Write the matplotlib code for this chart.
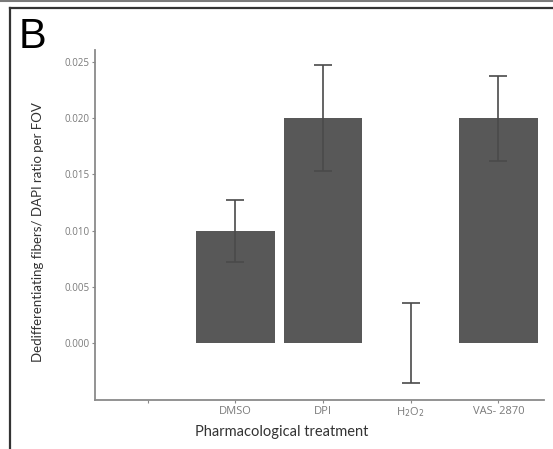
import matplotlib
matplotlib.use("Agg")
import matplotlib.pyplot as plt
from matplotlib.lines import Line2D
import numpy as np

categories = ["", "DMSO", "DPI", "H$_2$O$_2$", "VAS- 2870"]
values = [np.nan, 0.010, 0.020, 0.0, 0.020]
errors = [np.nan, 0.00275, 0.0047, 0.0036, 0.0038]
yticks = [0.000, 0.005, 0.010, 0.015, 0.020, 0.025]
ytick_labels = ["0.000", "0.005", "0.010", "0.015", "0.020", "0.025"]

W, H = 553, 449
fig = plt.figure(figsize=(W / 100, H / 100), dpi=100)
fig.patch.set_facecolor("white")

ax = fig.add_axes([95 / W, 1 - 400 / H, (544 - 95) / W, (400 - 50) / H])
x = np.arange(len(categories))
ax.bar(x, values, width=0.9, color="#585858", zorder=2)
ax.errorbar(x, values, yerr=errors, fmt="none", ecolor="#4a4a4a",
            elinewidth=1.2, capsize=6.5, capthick=1.2, zorder=3)

ax.set_xlim(-0.6, 4.52)
ax.set_ylim(-0.00507, 0.02607)
ax.set_xticks(x)
ax.set_xticklabels(categories, fontsize=8, color="#7a7a7a", family="Open Sans")
ax.set_yticks(yticks)
ax.set_yticklabels(ytick_labels, fontsize=7, color="#7a7a7a", family="Open Sans")
ax.tick_params(axis="both", length=2, width=0.8, color="#888888", pad=2)

for s in ["top", "right"]:
    ax.spines[s].set_visible(False)
for s in ["left", "bottom"]:
    ax.spines[s].set_color("#8a8a8a")
    ax.spines[s].set_linewidth(1.3)

ax.set_xlabel("Pharmacological treatment", fontsize=10.5, color="#333333",
              family="Lato", labelpad=5)
ax.xaxis.set_label_coords((282 - 95) / 449, -(432 - 400) / 350)
ax.xaxis.label.set_va("center")
ax.set_ylabel("Dedifferentiating fibers/ DAPI ratio per FOV", fontsize=9.5,
              color="#333333", family="Lato")
ax.yaxis.set_label_coords(-(95 - 38) / 449, (400 - 232.5) / 350)
ax.yaxis.label.set_va("center")

# panel letter
fig.text(19 / W, 1 - 48 / H, "B", fontsize=30, family="Liberation Sans",
         color="black", va="baseline", ha="left")

# frame lines
def px_line(x0, y0, x1, y1, color, lw):
    fig.add_artist(Line2D([x0 / W, x1 / W], [1 - y0 / H, 1 - y1 / H],
                          transform=fig.transFigure, color=color, linewidth=lw))

px_line(0, 1, W, 1, "#7a7a7a", 1.5)
px_line(9.5, 7.5, W, 7.5, "#333333", 1.6)
px_line(9.5, 7.5, 9.5, H, "#333333", 1.6)

fig.savefig("out.png", dpi=100, facecolor="white")
